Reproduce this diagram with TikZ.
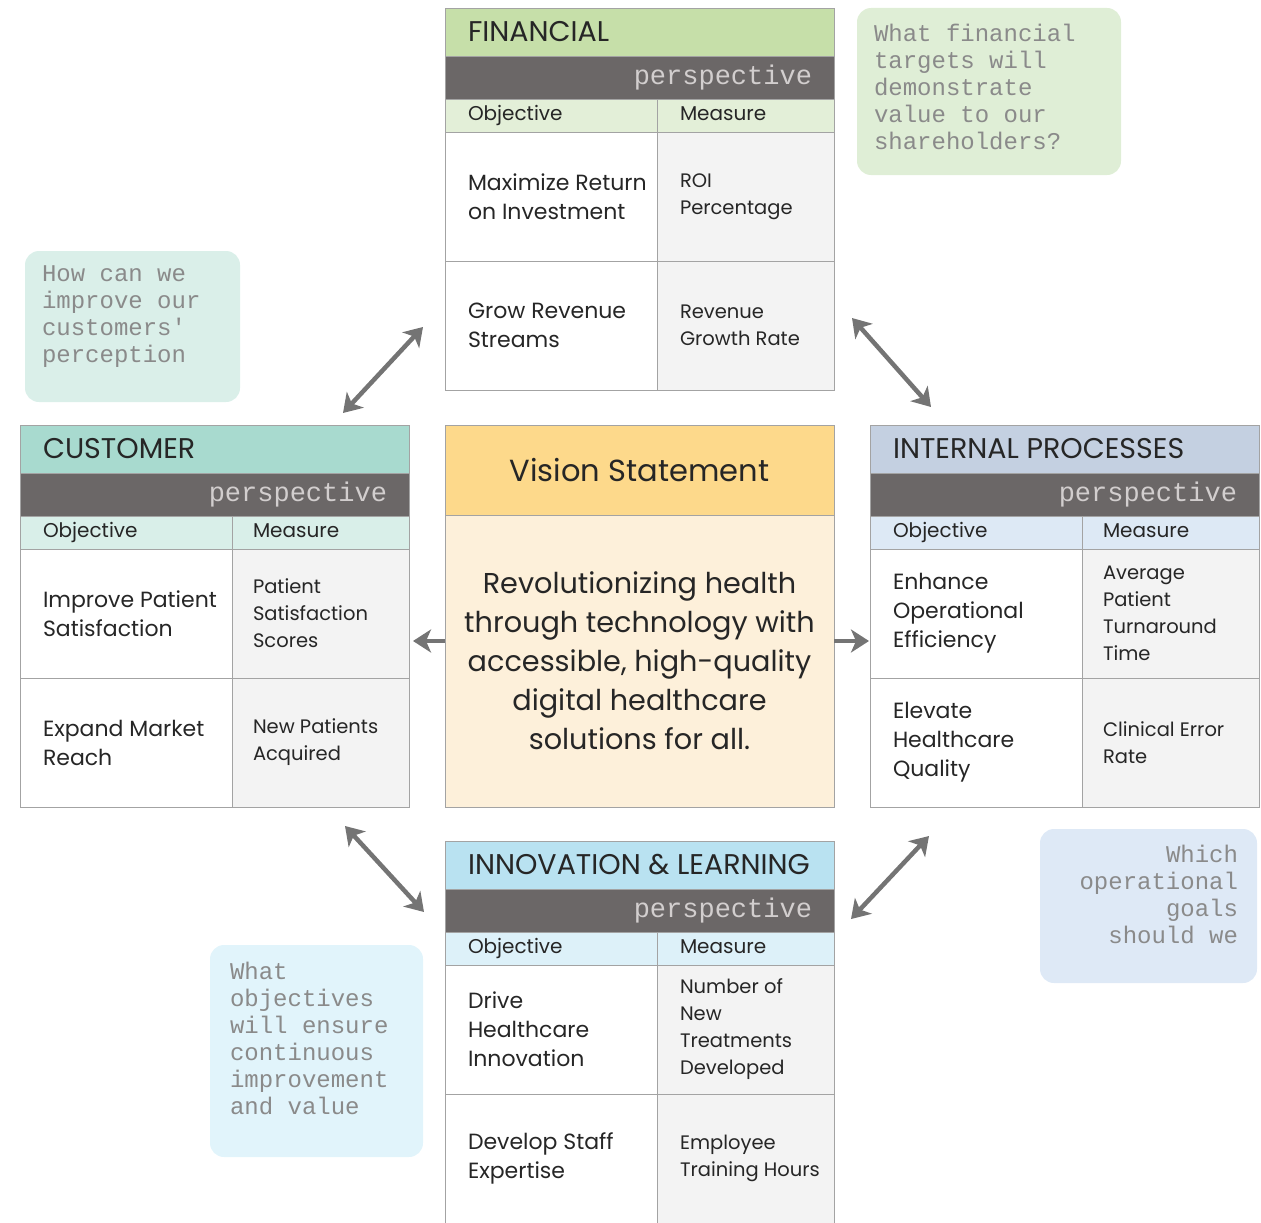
\documentclass[tikz,border=0pt]{standalone}
\usepackage{fontspec}
\setmainfont{Poppins}
\setmonofont{Liberation Mono}
\usetikzlibrary{arrows.meta, positioning}

\definecolor{gridline}{HTML}{A3A3A3}
\definecolor{bandgrey}{HTML}{6B6767}
\definecolor{persplight}{HTML}{D2CECE}
\definecolor{measgrey}{HTML}{F3F3F3}
\definecolor{inkdark}{HTML}{262626}
\definecolor{qgrey}{HTML}{8A8A8A}
\definecolor{arrowgrey}{HTML}{747474}
\definecolor{fingreen}{HTML}{C6DFA9}
\definecolor{finhead}{HTML}{E3EFD8}
\definecolor{finq}{HTML}{DFEED6}
\definecolor{custeal}{HTML}{A8DACF}
\definecolor{cushead}{HTML}{D9EFE9}
\definecolor{cusq}{HTML}{DAEFE9}
\definecolor{intblue}{HTML}{C4D0E1}
\definecolor{inthead}{HTML}{DDE9F5}
\definecolor{intq}{HTML}{DEE9F6}
\definecolor{innocyan}{HTML}{B9E2F1}
\definecolor{innohead}{HTML}{DDF1F9}
\definecolor{innoq}{HTML}{E1F4FB}
\definecolor{visyellow}{HTML}{FDD98B}
\definecolor{vispeach}{HTML}{FDF0DA}

\begin{document}
\begin{tikzpicture}[x=1pt, y=-1pt,
  every node/.style={inner sep=0pt, outer sep=0pt},
  cellbox/.style={draw=gridline, line width=0.9pt, anchor=north west},
  titleband/.style={cellbox, minimum width=389pt, minimum height=48pt},
  darkband/.style={cellbox, fill=bandgrey, minimum width=389pt, minimum height=43pt},
  objhead/.style={cellbox, minimum width=212pt, minimum height=33pt},
  meashead/.style={cellbox, minimum width=177pt, minimum height=33pt},
  objcell/.style={cellbox, fill=white, minimum width=212pt, minimum height=129pt},
  meascell/.style={cellbox, fill=measgrey, minimum width=177pt, minimum height=129pt},
  titletext/.style={font=\fontsize{28.5}{32}\selectfont, text=inkdark},
  persptext/.style={font=\ttfamily\fontsize{27}{30}\selectfont, text=persplight},
  headtext/.style={font=\fontsize{20}{24}\selectfont, text=inkdark, text height=14pt, text depth=4pt},
  objtext/.style={font=\fontsize{22}{29}\selectfont, text=inkdark, align=left},
  meastext/.style={font=\fontsize{19.5}{27}\selectfont, text=inkdark, align=left},
  qbox/.style={rounded corners=14pt, anchor=north west},
  qtext/.style={font=\ttfamily\fontsize{24}{27}\selectfont, text=qgrey, anchor=north west, align=left},
  linkarrow/.style={{Stealth[length=18pt,width=23pt,inset=5pt]}-{Stealth[length=18pt,width=23pt,inset=5pt]}, draw=arrowgrey, line width=4.5pt},
  sidearrow/.style={-{Stealth[length=18pt,width=23pt,inset=5pt]}, draw=arrowgrey, line width=4.5pt},
]
\useasboundingbox (0,0) rectangle (1261,1223);

% question boxes
\node[qbox, fill=finq, minimum width=264pt, minimum height=167pt] (fin-q) at (857,8) {};
\node[qtext] (fin-qt) at ([shift={(17pt,-16pt)}]fin-q.north west) {What financial\\targets will\\demonstrate\\value to our\\shareholders?};
\node[qbox, fill=cusq, minimum width=215pt, minimum height=151pt] (cus-q) at (25,251) {};
\node[qtext] (cus-qt) at ([shift={(17pt,-15pt)}]cus-q.north west) {How can we\\improve our\\customers'\\perception};
\node[qbox, fill=intq, minimum width=217pt, minimum height=154pt] (int-q) at (1040,829) {};
\node[qtext, anchor=north east, align=right] (int-qt) at ([shift={(-19pt,-16pt)}]int-q.north east) {Which\\operational\\goals\\should we};
\node[qbox, fill=innoq, minimum width=213pt, minimum height=212pt] (inno-q) at (210,945) {};
\node[qtext] (inno-qt) at ([shift={(20pt,-17pt)}]inno-q.north west) {What\\objectives\\will ensure\\continuous\\improvement\\and value};

% FINANCIAL
\node[titleband, fill=fingreen] (fin-title) at (445,8) {};
\node[titletext, right=23pt of fin-title.west] (fin-tt) {FINANCIAL};
\node[darkband] (fin-band) at (fin-title.south west) {};
\node[persptext, left=22pt of fin-band.east] (fin-pt) {perspective};
\node[objhead, fill=finhead] (fin-ho) at (fin-band.south west) {};
\node[meashead, fill=finhead, minimum width=177pt] (fin-hm) at (fin-ho.north east) {};
\node[headtext, right=23pt of fin-ho.west] {Objective};
\node[headtext, right=23pt of fin-hm.west] {Measure};
\node[objcell] (fin-o1) at (fin-ho.south west) {};
\node[meascell] (fin-m1) at (fin-o1.north east) {};
\node[objcell] (fin-o2) at (fin-o1.south west) {};
\node[meascell] (fin-m2) at (fin-o2.north east) {};
\node[objtext, right=23pt of fin-o1.west] {Maximize Return\\on Investment};
\node[meastext, right=23pt of fin-m1.west] {ROI\\Percentage};
\node[objtext, right=23pt of fin-o2.west] {Grow Revenue\\Streams};
\node[meastext, right=23pt of fin-m2.west] {Revenue\\Growth Rate};

% CUSTOMER
\node[titleband, fill=custeal] (cus-title) at (20,425) {};
\node[titletext, right=23pt of cus-title.west] (cus-tt) {CUSTOMER};
\node[darkband] (cus-band) at (cus-title.south west) {};
\node[persptext, left=22pt of cus-band.east] (cus-pt) {perspective};
\node[objhead, fill=cushead] (cus-ho) at (cus-band.south west) {};
\node[meashead, fill=cushead] (cus-hm) at (cus-ho.north east) {};
\node[headtext, right=23pt of cus-ho.west] {Objective};
\node[headtext, right=21pt of cus-hm.west] {Measure};
\node[objcell] (cus-o1) at (cus-ho.south west) {};
\node[meascell] (cus-m1) at (cus-o1.north east) {};
\node[objcell] (cus-o2) at (cus-o1.south west) {};
\node[meascell] (cus-m2) at (cus-o2.north east) {};
\node[objtext, right=23pt of cus-o1.west] {Improve Patient\\Satisfaction};
\node[meastext, right=21pt of cus-m1.west] {Patient\\Satisfaction\\Scores};
\node[objtext, right=23pt of cus-o2.west] {Expand Market\\Reach};
\node[meastext, right=21pt of cus-m2.west] {New Patients\\Acquired};

% INTERNAL PROCESSES
\node[titleband, fill=intblue] (int-title) at (870,425) {};
\node[titletext, right=23pt of int-title.west] (int-tt) {INTERNAL PROCESSES};
\node[darkband] (int-band) at (int-title.south west) {};
\node[persptext, left=22pt of int-band.east] (int-pt) {perspective};
\node[objhead, fill=inthead] (int-ho) at (int-band.south west) {};
\node[meashead, fill=inthead] (int-hm) at (int-ho.north east) {};
\node[headtext, right=23pt of int-ho.west] {Objective};
\node[headtext, right=21pt of int-hm.west] {Measure};
\node[objcell] (int-o1) at (int-ho.south west) {};
\node[meascell] (int-m1) at (int-o1.north east) {};
\node[objcell] (int-o2) at (int-o1.south west) {};
\node[meascell] (int-m2) at (int-o2.north east) {};
\node[objtext, right=23pt of int-o1.west] {Enhance\\Operational\\Efficiency};
\node[meastext, right=21pt of int-m1.west] {Average\\Patient\\Turnaround\\Time};
\node[objtext, right=23pt of int-o2.west] {Elevate\\Healthcare\\Quality};
\node[meastext, right=21pt of int-m2.west] {Clinical Error\\Rate};

% INNOVATION & LEARNING
\node[titleband, fill=innocyan] (inno-title) at (445,841) {};
\node[titletext, right=23pt of inno-title.west] (inno-tt) {INNOVATION \& LEARNING};
\node[darkband] (inno-band) at (inno-title.south west) {};
\node[persptext, left=22pt of inno-band.east] (inno-pt) {perspective};
\node[objhead, fill=innohead] (inno-ho) at (inno-band.south west) {};
\node[meashead, fill=innohead] (inno-hm) at (inno-ho.north east) {};
\node[headtext, right=23pt of inno-ho.west] {Objective};
\node[headtext, right=23pt of inno-hm.west] {Measure};
\node[objcell] (inno-o1) at (inno-ho.south west) {};
\node[meascell] (inno-m1) at (inno-o1.north east) {};
\node[objcell] (inno-o2) at (inno-o1.south west) {};
\node[meascell] (inno-m2) at (inno-o2.north east) {};
\node[objtext, right=23pt of inno-o1.west] {Drive\\Healthcare\\Innovation};
\node[meastext, right=23pt of inno-m1.west] {Number of\\New\\Treatments\\Developed};
\node[objtext, right=23pt of inno-o2.west] {Develop Staff\\Expertise};
\node[meastext, right=23pt of inno-m2.west] {Employee\\Training Hours};

% vision in the middle
\node[cellbox, fill=visyellow, minimum width=389pt, minimum height=90pt] (vis-title) at (445,425) {};
\node[font=\fontsize{30.5}{34}\selectfont, text=inkdark] (vis-tt) at (vis-title.center) {Vision Statement};
\node[cellbox, fill=vispeach, minimum width=389pt, minimum height=292pt] (vis-body) at (vis-title.south west) {};
\node[font=\fontsize{28.7}{39}\selectfont, text=inkdark, align=center] (vis-bt) at (vis-body.center) {Revolutionizing health\\through technology with\\accessible, high-quality\\digital healthcare\\solutions for all.};

% arrows
\coordinate (fc-a) at (423,327);
\coordinate (fc-b) at (343,413);
\coordinate (fi-a) at (852,318);
\coordinate (fi-b) at (931,407);
\coordinate (cl-a) at (345,826);
\coordinate (cl-b) at (424,912);
\coordinate (il-a) at (929,836);
\coordinate (il-b) at (851,919);
\coordinate (vc-a) at (445,641);
\coordinate (vc-b) at (413,641);
\coordinate (vi-a) at (834,641);
\coordinate (vi-b) at (869,641);
\draw[linkarrow] (fc-a) -- (fc-b);
\draw[linkarrow] (fi-a) -- (fi-b);
\draw[linkarrow] (cl-a) -- (cl-b);
\draw[linkarrow] (il-a) -- (il-b);
\draw[sidearrow] (vc-a) -- (vc-b);
\draw[sidearrow] (vi-a) -- (vi-b);

\end{tikzpicture}
\end{document}
